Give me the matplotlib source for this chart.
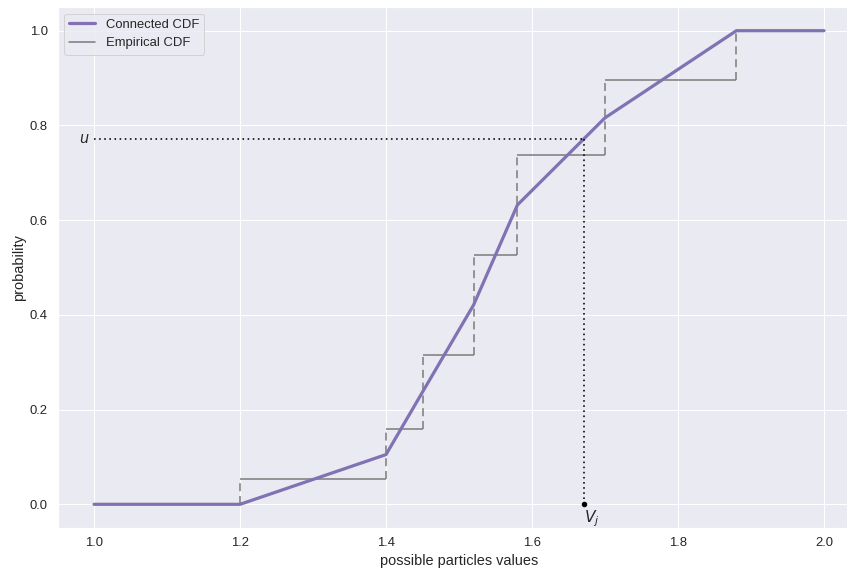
import matplotlib
matplotlib.use("Agg")
import matplotlib.pyplot as plt
import seaborn as sns

# data
x_vals = [1.0, 1.2, 1.4, 1.45, 1.52, 1.58, 1.7, 1.88, 2.0]
connected_cdf = [0.0, 0.0, 0.105, 0.237, 0.421, 0.632, 0.816, 1.0, 1.0]
empirical_cdf = [0.0, 0.053, 0.158, 0.316, 0.526, 0.737, 0.895, 1.0, 1.0]
u_val = 0.772
v_j = 1.671

sns.set_theme(style="darkgrid")
plt.rcParams['font.family'] = ['Liberation Sans', 'DejaVu Sans']

dpi = 72
fig = plt.figure(figsize=(847 / dpi, 573 / dpi), dpi=dpi)
ax = fig.add_axes([57.5 / 847, 45 / 573, (860.5 - 57.5) / 847, (528 - 7) / 573])

purple = "#8172b3"
gray = "#808080"

# empirical CDF: horizontal solid, vertical dashed
for i in range(len(x_vals) - 1):
    ax.hlines(empirical_cdf[i], x_vals[i], x_vals[i + 1], color=gray, lw=1.6, zorder=2)
for i in range(1, len(x_vals) - 1):
    ax.vlines(x_vals[i], empirical_cdf[i - 1], empirical_cdf[i], color=gray, lw=1.6,
              linestyles=(0, (5, 3)), zorder=2)

ax.plot(x_vals, connected_cdf, color=purple, lw=3.2, label="Connected CDF", zorder=3)
ax.plot([], [], color=gray, lw=1.6, label="Empirical CDF")

# u / V_j construction
ax.plot([x_vals[0], v_j], [u_val, u_val], color="black", ls=(0, (1, 2.2)), lw=1.6, zorder=4)
ax.plot([v_j, v_j], [u_val, 0], color="black", ls=(0, (1, 2.2)), lw=1.6, zorder=4)
ax.plot([v_j], [0], marker="o", color="black", ms=4.5, zorder=5)
ax.text(0.986, u_val, "$u$", ha="center", va="center", fontsize=14.5)
ax.text(v_j + 0.011, -0.031, "$V_j$", ha="center", va="center", fontsize=15.5)

ax.set_xlim(0.95, 2.05)
ax.set_ylim(-0.05, 1.05)
ax.set_xticks([1.0, 1.2, 1.4, 1.6, 1.8, 2.0])
ax.set_yticks([0.0, 0.2, 0.4, 0.6, 0.8, 1.0])
ax.tick_params(labelsize=13)
ax.set_xlabel("possible particles values", fontsize=14.5)
ax.set_ylabel("probability", fontsize=14.5)
ax.legend(loc="upper left", fontsize=13, handlelength=2.0)

fig.savefig("out.png", dpi=dpi)
